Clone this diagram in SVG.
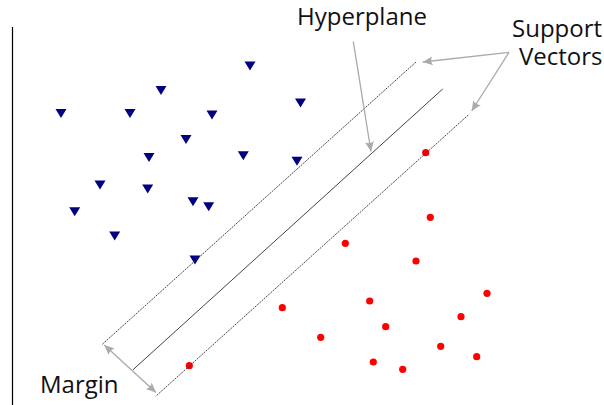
<svg xmlns="http://www.w3.org/2000/svg" width="604" height="405" viewBox="0 0 604 405">
<style>
.tri{fill:#000080}
.dot{fill:#ff0000}
.lbl{font-family:"Open Sans","Noto Sans",sans-serif;font-size:24px;fill:#111}
.hp{stroke:#444;stroke-width:1;fill:none}
.mg{stroke:#333;stroke-width:0.9;stroke-dasharray:2,1;fill:none}
.ar{stroke:#aaa;stroke-width:1.3;fill:none}
</style>
<defs>
<marker id="ah" viewBox="-11 -5 12 10" refX="0" refY="0" markerWidth="12" markerHeight="10" markerUnits="userSpaceOnUse" orient="auto-start-reverse">
<path d="M0,0 L-10,-4.5 Q-7,0 -10,4.5 Z" fill="#aaa"/>
</marker>
<path id="t" d="M-5.5,-4.5 L5.5,-4.5 L0,4.5 Z"/>
</defs>
<rect width="604" height="405" fill="#fff"/>
<g id="axis"><line x1="12.5" y1="27" x2="12.5" y2="405" stroke="#000" stroke-width="1.2"/></g>
<g id="class-a" class="tri">
<use href="#t" x="250" y="66"/>
<use href="#t" x="161" y="90.5"/>
<use href="#t" x="61" y="113.5"/>
<use href="#t" x="130" y="113.5"/>
<use href="#t" x="212" y="115"/>
<use href="#t" x="300.5" y="103"/>
<use href="#t" x="186" y="139.5"/>
<use href="#t" x="149" y="157.5"/>
<use href="#t" x="243.3" y="155.7"/>
<use href="#t" x="297" y="161.3"/>
<use href="#t" x="100" y="185"/>
<use href="#t" x="147.7" y="189"/>
<use href="#t" x="193" y="201.7"/>
<use href="#t" x="208.7" y="206.7"/>
<use href="#t" x="74.7" y="211.7"/>
<use href="#t" x="114.7" y="236"/>
<use href="#t" x="195" y="260"/>
</g>
<g id="class-b" class="dot">
<circle cx="425.7" cy="152.7" r="3.6"/>
<circle cx="430.3" cy="217.3" r="3.6"/>
<circle cx="416" cy="261" r="3.6"/>
<circle cx="345.3" cy="243.3" r="3.6"/>
<circle cx="189.3" cy="365.7" r="3.6"/>
<circle cx="282.3" cy="307.7" r="3.6"/>
<circle cx="369.7" cy="301" r="3.6"/>
<circle cx="385.7" cy="326.7" r="3.6"/>
<circle cx="320.7" cy="337.3" r="3.6"/>
<circle cx="373.3" cy="362" r="3.6"/>
<circle cx="487" cy="293.3" r="3.6"/>
<circle cx="461" cy="316.7" r="3.6"/>
<circle cx="440.7" cy="346.3" r="3.6"/>
<circle cx="476.7" cy="356.7" r="3.6"/>
<circle cx="402.7" cy="369.3" r="3.6"/>
</g>
<g id="hyperplane"><line class="hp" x1="442.7" y1="89" x2="132.7" y2="370"/></g>
<g id="margin-upper"><line class="mg" x1="416" y1="62" x2="102.3" y2="344.3"/></g>
<g id="margin-lower"><line class="mg" x1="468.3" y1="115" x2="155.7" y2="396.3"/></g>
<g id="connectors">
<line class="ar" x1="353.3" y1="41.7" x2="371" y2="151.5" marker-end="url(#ah)"/>
<line class="ar" x1="509" y1="52.3" x2="422.7" y2="62" marker-end="url(#ah)"/>
<line class="ar" x1="509" y1="52.3" x2="471.7" y2="111" marker-end="url(#ah)"/>
<line class="ar" x1="104.3" y1="345" x2="156" y2="392.5" marker-start="url(#ah)" marker-end="url(#ah)"/>
</g>
<g id="labels">
<text class="lbl" x="297" y="25">Hyperplane</text>
<text class="lbl"><tspan x="512" y="37.3">Support</tspan><tspan x="519" y="65">Vectors</tspan></text>
<text class="lbl" x="40" y="393.3">Margin</text>
</g>
</svg>
